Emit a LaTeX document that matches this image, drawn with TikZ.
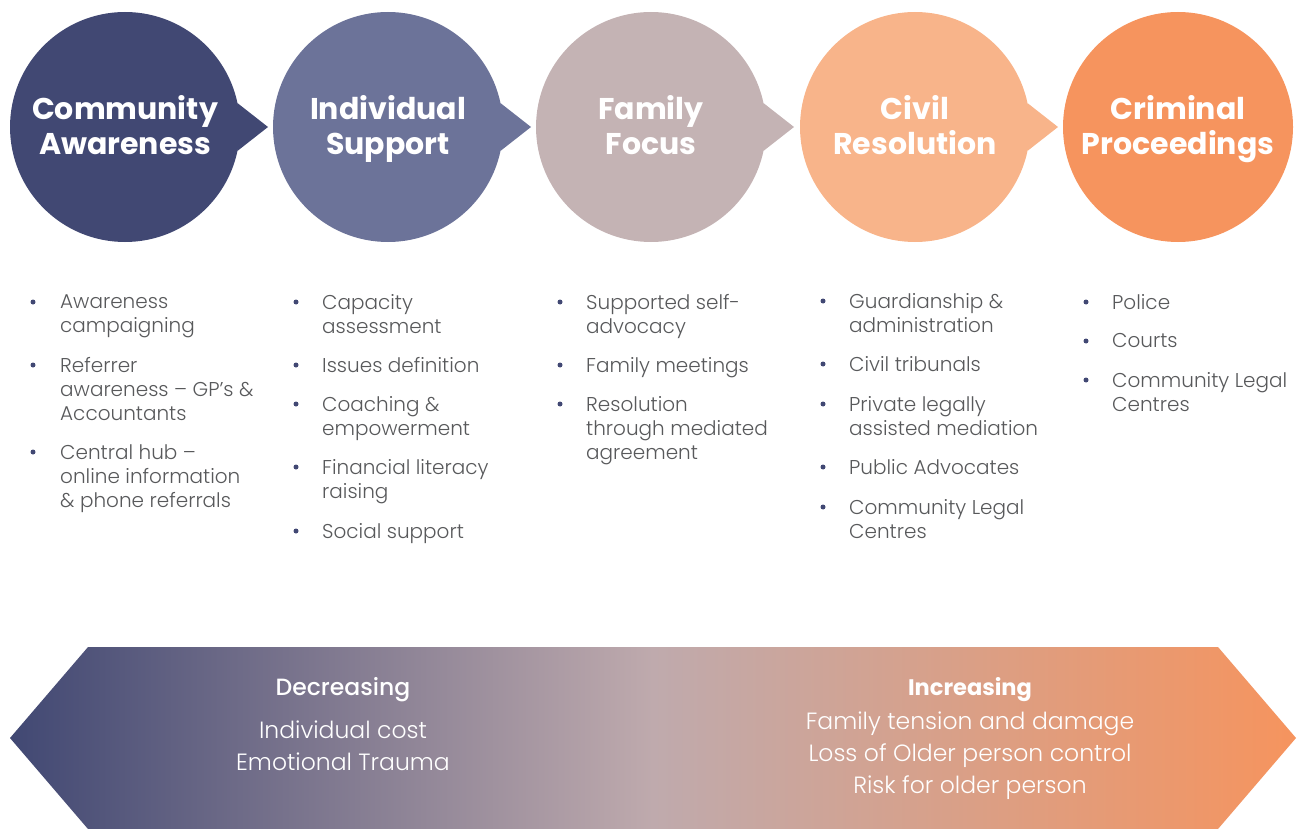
\documentclass[tikz,border=0pt]{standalone}
\usepackage{fontspec}
\setmainfont{Poppins}[UprightFont=*-Light,BoldFont=*-Bold]
\newfontfamily\semib{Poppins}[UprightFont=*-Medium]
\usetikzlibrary{calc}
\definecolor{cA}{HTML}{414873}
\definecolor{cB}{HTML}{6C7399}
\definecolor{cC}{HTML}{C4B3B4}
\definecolor{cD}{HTML}{F8B48A}
\definecolor{cE}{HTML}{F6945E}
\definecolor{txt}{HTML}{58595B}
\definecolor{mid}{HTML}{BFAAAD}
\tikzset{
  stage/.style={circle,minimum size=230pt,inner sep=0pt,outer sep=0pt,fill=#1},
  ttl/.style={text=white,anchor=base,inner sep=0pt,font=\fontsize{30}{35}\selectfont\bfseries},
  itm/.style={anchor=north west,inner sep=0pt,align=left,text=txt,font=\fontsize{20}{24}\selectfont},
  bdot/.style={circle,fill=cA,inner sep=0pt,minimum size=5pt},
  btxt/.style={text=white,align=center,font=\fontsize{23.5}{32}\selectfont},
  bhead/.style={text=white,font=\fontsize{23.5}{25}\selectfont\semib},
}
\begin{document}
\begin{tikzpicture}[x=1pt,y=-1pt]
\useasboundingbox (0,0) rectangle (1308,829);
% stages
\foreach \n/\cx/\col/\ta/\tb in {s1/125/cA/Community/Awareness,s2/388/cB/Individual/Support,s3/651/cC/Family/Focus,s4/915/cD/Civil/Resolution,s5/1178/cE/Criminal/Proceedings}{
  \node[stage=\col] (\n) at (\cx,127) {};
  \coordinate (\n tip) at (\cx+143,127);
  \node[ttl] (\n ta) at (\cx,120) {\ta};
  \node[ttl] (\n tb) at (\cx,155) {\tb};
}
\foreach \n/\col in {s1/cA,s2/cB,s3/cC,s4/cD}{
  \fill[\col] (\n.12) -- (\n tip) -- (\n.-12) -- cycle;
}
% column 1
\node[bdot] (b11) at (33,302) {}; \node[itm] (i11) at (60,294) {Awareness\\campaigning};
\node[bdot] (b12) at (33,365) {}; \node[itm] (i12) at (60,357) {Referrer\\awareness – GP’s \&\\Accountants};
\node[bdot] (b13) at (33,452) {}; \node[itm] (i13) at (60,444) {Central hub –\\online information\\\& phone referrals};
% column 2
\node[bdot] (b21) at (296,302) {}; \node[itm] (i21) at (322,294) {Capacity\\assessment};
\node[bdot] (b22) at (296,365) {}; \node[itm] (i22) at (322,357) {Issues definition};
\node[bdot] (b23) at (296,404) {}; \node[itm] (i23) at (322,396) {Coaching \&\\empowerment};
\node[bdot] (b24) at (296,467) {}; \node[itm] (i24) at (322,459) {Financial literacy\\raising};
\node[bdot] (b25) at (296,531) {}; \node[itm] (i25) at (322,523) {Social support};
% column 3
\node[bdot] (b31) at (560,302) {}; \node[itm] (i31) at (586,294) {Supported self-\\advocacy};
\node[bdot] (b32) at (560,365) {}; \node[itm] (i32) at (586,357) {Family meetings};
\node[bdot] (b33) at (560,404) {}; \node[itm] (i33) at (586,396) {Resolution\\through mediated\\agreement};
% column 4
\node[bdot] (b41) at (823,301) {}; \node[itm] (i41) at (849,293) {Guardianship \&\\administration};
\node[bdot] (b42) at (823,364) {}; \node[itm] (i42) at (849,356) {Civil tribunals};
\node[bdot] (b43) at (823,404) {}; \node[itm] (i43) at (849,396) {Private legally\\assisted mediation};
\node[bdot] (b44) at (823,467) {}; \node[itm] (i44) at (849,459) {Public Advocates};
\node[bdot] (b45) at (823,507) {}; \node[itm] (i45) at (849,499) {Community Legal\\Centres};
% column 5
\node[bdot] (b51) at (1086,302) {}; \node[itm] (i51) at (1112,294) {Police};
\node[bdot] (b52) at (1086,341) {}; \node[itm] (i52) at (1112,333) {Courts};
\node[bdot] (b53) at (1086,380) {}; \node[itm] (i53) at (1112,372) {Community Legal\\Centres};
% bottom arrow
\shade[shading=axis,left color=cA,right color=cE,middle color=mid]
  (10,738) -- (88,647) -- (1218,647) -- (1296,738) -- (1218,829) -- (88,829) -- cycle;
\node[bhead] (dh) at (343,690) {Decreasing};
\node[btxt] (dt) at (343,746) {Individual cost\\Emotional Trauma};
\node[bhead,font=\fontsize{22.5}{25}\selectfont\bfseries] (ih) at (970,690) {Increasing};
\node[btxt] (it) at (970,756) {Family tension and damage\\Loss of Older person control\\Risk for older person};
\end{tikzpicture}
\end{document}
